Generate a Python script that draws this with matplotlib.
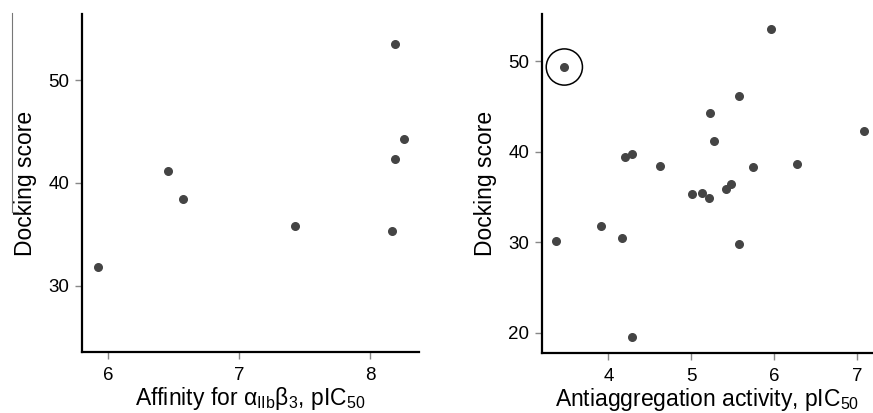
import matplotlib
matplotlib.use("Agg")
import matplotlib.pyplot as plt
from matplotlib.lines import Line2D

plt.rcParams['font.family'] = ['Liberation Sans', 'DejaVu Sans']
plt.rcParams['mathtext.default'] = 'regular'

# left panel: affinity vs docking score
affinity = [5.92, 6.46, 6.57, 7.43, 8.17, 8.19, 8.26, 8.19]
affinity_score = [31.8, 41.2, 38.4, 35.8, 35.3, 42.3, 44.3, 53.5]

# right panel: antiaggregation activity vs docking score
activity = [3.47, 3.37, 3.91, 4.17, 4.20, 4.29, 4.29, 4.62, 5.01, 5.13, 5.21,
            5.23, 5.27, 5.42, 5.48, 5.57, 5.57, 5.74, 5.96, 6.28, 7.08]
activity_score = [49.35, 30.1, 31.8, 30.5, 39.4, 39.7, 19.5, 38.45, 35.3, 35.45,
                  34.85, 44.3, 41.2, 35.85, 36.4, 46.1, 29.8, 38.3, 53.5, 38.6, 42.3]
outlier = (3.47, 49.35)

dot_color = '#444444'
tick_color = '#888888'


def style_axes(ax):
    for side in ('top', 'right'):
        ax.spines[side].set_visible(False)
    for side in ('left', 'bottom'):
        ax.spines[side].set_linewidth(1.6)
        ax.spines[side].set_color('black')
    ax.tick_params(axis='both', direction='out', length=5, width=1,
                   color=tick_color, labelsize=13.5)
    ax.tick_params(axis='y', pad=4)
    ax.tick_params(axis='x', pad=6)


fig = plt.figure(figsize=(8.73, 4.13), dpi=100)

ax1 = fig.add_axes([0.094, 0.148, 0.386, 0.818])
ax1.scatter(affinity, affinity_score, s=30, color=dot_color, zorder=3)
ax1.set_xlim(5.8, 8.375)
ax1.set_ylim(23.57, 56.43)
ax1.set_xticks([6, 7, 8])
ax1.set_yticks([30, 40, 50])
ax1.set_xlabel(r'Affinity for $\alpha_{IIb}\beta_3$, pIC$_{50}$', fontsize=16.5, labelpad=0.5)
ax1.set_ylabel('Docking score', fontsize=16.5, labelpad=8)
style_axes(ax1)

ax2 = fig.add_axes([0.6205, 0.146, 0.3795, 0.820])
ax2.scatter(activity, activity_score, s=30, color=dot_color, zorder=3)
ax2.scatter([outlier[0]], [outlier[1]], s=680, facecolors='none',
            edgecolors='black', linewidths=1.1, zorder=2)
ax2.set_xlim(3.197, 7.19)
ax2.set_ylim(17.8, 55.2)
ax2.set_xticks([4, 5, 6, 7])
ax2.set_yticks([20, 30, 40, 50])
ax2.set_xlabel(r'Antiaggregation activity, pIC$_{50}$', fontsize=16.5, labelpad=0.5)
ax2.set_ylabel('Docking score', fontsize=16.5, labelpad=8)
style_axes(ax2)

# thin gray scan line at the top left of the original figure
fig.add_artist(Line2D([12 / 873, 12 / 873], [1 - 13 / 413, 1 - 212 / 413],
                      color='#777777', lw=0.8, transform=fig.transFigure))
fig.add_artist(Line2D([12 / 873, 18 / 873], [1 - 212 / 413, 1 - 212 / 413],
                      color='#777777', lw=0.8, transform=fig.transFigure))

fig.savefig('out.png', dpi=100)
